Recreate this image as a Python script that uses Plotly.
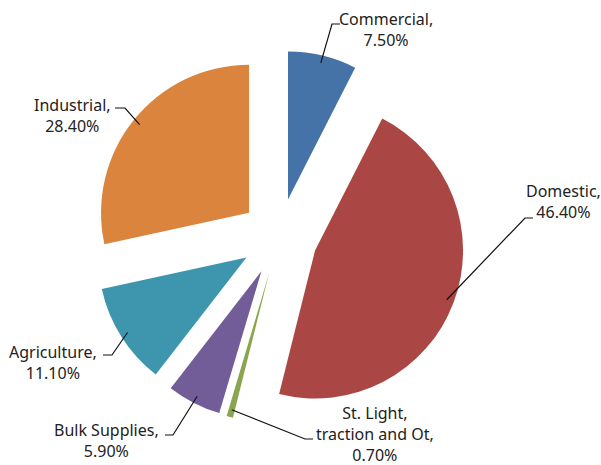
import math
import plotly.graph_objects as go

# Electricity consumption share by consumer category
categories = ["Commercial", "Domestic", "St. Light, traction and Ot",
              "Bulk Supplies", "Agriculture", "Industrial"]
shares = [7.5, 46.4, 0.7, 5.9, 11.1, 28.4]
label_names = ["Commercial,", "Domestic,", "St. Light,<br>traction and Ot,",
               "Bulk Supplies,", "Agriculture,", "Industrial,"]
colors = ["#4572A7", "#AA4643", "#89A54E", "#735D98", "#3D96AE", "#DB843D"]

W, H = 601, 465
PULL = 0.26
CX, CY = 279.0, 237.0          # centre of the unexploded pie (px)
R = 148.0                       # pie radius (px)
HALF = R * (1 + PULL)

dom_x = [(CX - HALF) / W, (CX + HALF) / W]
dom_y = [1 - (CY + HALF) / H, 1 - (CY - HALF) / H]

# label placement (px): text block centre, elbow and end of leader line
label_pos = [(386, 30), (563, 201), (375, 434), (106, 440), (53, 362), (72, 115)]
leader_knee = [(332, 24), (525, 218), (305, 439), (173, 435), (112, 355), (125, 108)]
leader_end = [(340, 24), (533, 218), (313, 439), (165, 435), (103, 355), (115, 108)]


def px(x, y):
    return x / W, 1 - y / H


fig = go.Figure(go.Pie(
    labels=categories,
    values=shares,
    sort=False,
    direction="clockwise",
    rotation=0,
    pull=[PULL] * len(shares),
    marker=dict(colors=colors, line=dict(width=0)),
    textinfo="none",
    hoverinfo="label+percent",
    showlegend=False,
    domain=dict(x=dom_x, y=dom_y),
))

total = sum(shares)
cum = 0.0
shapes, annotations = [], []
for i, v in enumerate(shares):
    theta = 2 * math.pi * (cum + v / 2) / total
    cum += v
    sx, sy = math.sin(theta), -math.cos(theta)
    ax = CX + PULL * R * sx + 0.95 * R * sx
    ay = CY + PULL * R * sy + 0.95 * R * sy
    p0 = px(ax, ay)
    p1 = px(*leader_knee[i])
    p2 = px(*leader_end[i])
    shapes.append(dict(
        type="path", xref="paper", yref="paper",
        path=f"M {p0[0]},{p0[1]} L {p1[0]},{p1[1]} L {p2[0]},{p2[1]}",
        line=dict(color="#111111", width=1.2),
    ))
    tx, ty = px(*label_pos[i])
    annotations.append(dict(
        x=tx, y=ty, xref="paper", yref="paper",
        text=f"{label_names[i]}<br>{v:.2f}%",
        showarrow=False, xanchor="center", yanchor="middle", align="center",
        font=dict(family="Noto Sans", size=16, color="#222222"),
    ))

fig.update_layout(
    width=W, height=H,
    margin=dict(l=0, r=0, t=0, b=0),
    paper_bgcolor="white",
    plot_bgcolor="white",
    shapes=shapes,
    annotations=annotations,
)

fig.write_html("out.html")
